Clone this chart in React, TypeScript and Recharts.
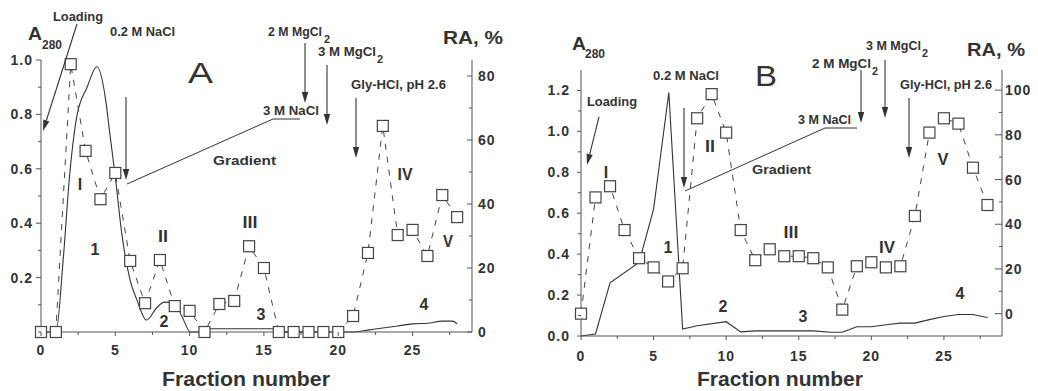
import React from 'react';
import { ComposedChart, Line, XAxis, YAxis } from 'recharts';

// fraction numbers for the RA (square) series
const fractions = [
  0, 1, 2, 3, 4, 5, 6, 7, 8, 9, 10, 11, 12, 13, 14, 15, 16, 17, 18, 19, 20, 21, 22, 23, 24, 25,
  26, 27, 28,
];

// RA, % in panel A and B
const raA = [
  0, 0, 83.7, 56.6, 41.5, 49.7, 22.2, 9, 22.5, 8.1, 6.6, 0, 8.75, 9.7, 26.8, 20, 0, 0, 0, 0, 0, 5,
  24.7, 64.4, 30.3, 31.9, 23.75, 42.8, 35.9,
];
const raB = [
  0, 52, 57, 37.4, 24.8, 20.7, 14.4, 20.3, 87.4, 98.2, 81, 37.4, 23.9, 28.8, 25.7, 25.7, 24.8, 20.7,
  1.8, 21.2, 23, 20.7, 21.2, 43.7, 81, 87.4, 85, 65.3, 48.6,
];

// A280 trace, panel A
const absAFraction = [
  0, 1, 1.5, 1.9, 2.4, 3.1, 3.76, 4.36, 4.63, 5, 5.44, 6, 6.44, 7.1, 7.8, 8.3, 9, 9.5, 10.05, 11,
  11.1, 15.6, 16, 21, 22, 23, 24, 25, 26, 27, 27.7, 28,
];
const absAValue = [
  0, 0, 0.27, 0.56, 0.79, 0.9, 0.975, 0.85, 0.73, 0.57, 0.36, 0.19, 0.12, 0.044, 0.09, 0.11, 0.105,
  0.055, 0, 0, 0.012, 0.012, 0, 0, 0.007, 0.015, 0.022, 0.03, 0.032, 0.04, 0.04, 0.03,
];

// A280 trace, panel B
const absBFraction = [
  0, 1, 2, 4, 5, 6.05, 7, 8, 10, 11, 12, 16, 17.2, 18, 19, 20, 21, 22, 23, 24, 25, 26, 27, 28,
];
const absBValue = [
  0, 0.01, 0.26, 0.36, 0.62, 1.19, 0.034, 0.05, 0.07, 0.02, 0.025, 0.025, 0.018, 0.018, 0.045,
  0.045, 0.055, 0.063, 0.063, 0.08, 0.095, 0.105, 0.105, 0.09,
];

// ticks
const xTicks = [0, 2.5, 5, 7.5, 10, 12.5, 15, 17.5, 20, 22.5, 25, 27.5];
const xLabels = [0, 5, 10, 15, 20, 25];
const aLeftTicks = [0, 0.1, 0.2, 0.3, 0.4, 0.5, 0.6, 0.7, 0.8, 0.9, 1.0];
const aLeftLabels = [0.2, 0.4, 0.6, 0.8, 1.0];
const aRightTicks = [0, 10, 20, 30, 40, 50, 60, 70, 80];
const aRightLabels = [0, 20, 40, 60, 80];
const bLeftTicks = [0, 0.1, 0.2, 0.3, 0.4, 0.5, 0.6, 0.7, 0.8, 0.9, 1.0, 1.1, 1.2];
const bLeftLabels = [0, 0.2, 0.4, 0.6, 0.8, 1.0, 1.2];
const bRightTicks = [0, 10, 20, 30, 40, 50, 60, 70, 80, 90, 100];
const bRightLabels = [0, 20, 40, 60, 80, 100];

const INK = '#333';
const AXIS = '#555';
const FONT = '"Liberation Sans", Arial, sans-serif';

const raDataA = fractions.map((f, i) => ({ f, ra: raA[i] }));
const raDataB = fractions.map((f, i) => ({ f, ra: raB[i] }));
const absDataA = absAFraction.map((f, i) => ({ f, a: absAValue[i] }));
const absDataB = absBFraction.map((f, i) => ({ f, a: absBValue[i] }));

const has = (list: number[], v: number) => list.some((l) => Math.abs(l - v) < 1e-6);

type Side = 'left' | 'right' | 'bottom';

const tickFor =
  (side: Side, labels: number[], fmt: (v: number) => string, gap: number, majorLen = 5) =>
  (p: any) => {
    const { x, y, payload } = p;
    const v = payload.value as number;
    const major = has(labels, v);
    const len = major ? majorLen : 3;
    const text = major ? fmt(v) : '';
    const style = { fontFamily: FONT, fontWeight: 700, fontSize: 14, fill: INK, letterSpacing: 1 };
    if (side === 'left')
      return (
        <g>
          <line x1={x - len} y1={y} x2={x} y2={y} stroke={AXIS} />
          <text x={x - gap} y={y + 5} textAnchor="end" style={style}>
            {text}
          </text>
        </g>
      );
    if (side === 'right')
      return (
        <g>
          <line x1={x - len} y1={y} x2={x} y2={y} stroke={AXIS} />
          <text x={x + gap} y={y + 5} textAnchor="start" style={style}>
            {text}
          </text>
        </g>
      );
    return (
      <g>
        <line x1={x} y1={y} x2={x} y2={y + len} stroke={AXIS} />
        <text x={x} y={y + gap} textAnchor="middle" style={style}>
          {text}
        </text>
      </g>
    );
  };

const fmt1 = (v: number) => v.toFixed(1);
const fmt0 = (v: number) => String(Math.round(v));

const square = (prefix: string) => (p: any) => (
  <rect
    key={`${prefix}-${p.index}`}
    x={p.cx - 5.5}
    y={p.cy - 5.5}
    width={11}
    height={11}
    fill="#fff"
    stroke="#444"
    strokeWidth={1.2}
  />
);

const Arrow = ({ x1, y1, x2, y2 }: { x1: number; y1: number; x2: number; y2: number }) => {
  const dx = x2 - x1;
  const dy = y2 - y1;
  const L = Math.hypot(dx, dy);
  const ux = dx / L;
  const uy = dy / L;
  const hl = 11;
  const hw = 3.2;
  const bx = x2 - ux * hl;
  const by = y2 - uy * hl;
  const pts = `${x2},${y2} ${bx - uy * hw},${by + ux * hw} ${bx + uy * hw},${by - ux * hw}`;
  return (
    <g>
      <line x1={x1} y1={y1} x2={bx} y2={by} stroke={INK} strokeWidth={1.1} />
      <polygon points={pts} fill={INK} />
    </g>
  );
};

const T = ({
  x,
  y,
  w,
  size = 12,
  weight = 700,
  anchor = 'start',
  children,
}: {
  x: number;
  y: number;
  w?: number;
  size?: number;
  weight?: number;
  anchor?: 'start' | 'middle' | 'end';
  children: React.ReactNode;
}) => (
  <text
    x={x}
    y={y}
    textAnchor={anchor}
    textLength={w}
    lengthAdjust={w ? 'spacingAndGlyphs' : undefined}
    style={{ fontFamily: FONT, fontSize: size, fontWeight: weight, fill: INK }}
  >
    {children}
  </text>
);

const Annotations = () => (
  <svg
    width={1038}
    height={391}
    style={{ position: 'absolute', left: 0, top: 0, pointerEvents: 'none' }}
  >
    {/* panel A */}
    <T x={28} y={40} w={14} size={18}>A</T>
    <T x={42} y={49} w={20} size={12}>280</T>
    <T x={53} y={21} w={50}>Loading</T>
    <Arrow x1={77} y1={24} x2={43} y2={131} />
    <T x={110} y={36} w={65}>0.2 M NaCl</T>
    <Arrow x1={126} y1={97} x2={126} y2={180} />
    <T x={188} y={83} w={25} size={30} weight={400}>A</T>
    <polyline points="127,184 273,119 300,119" fill="none" stroke={INK} strokeWidth={1} />
    <T x={263} y={115} w={56}>3 M NaCl</T>
    <T x={213} y={165} w={63}>Gradient</T>
    <T x={268} y={36} w={54}>2 M MgCl</T>
    <T x={324} y={43} w={6} size={10}>2</T>
    <Arrow x1={305} y1={43} x2={305} y2={103} />
    <T x={318} y={56} w={58}>3 M MgCl</T>
    <T x={377} y={63} w={6} size={10}>2</T>
    <Arrow x1={327} y1={65} x2={327} y2={125} />
    <T x={351} y={89} w={95}>Gly-HCl, pH 2.6</T>
    <Arrow x1={356} y1={98} x2={356} y2={158} />
    <T x={443} y={44} w={60} size={19}>RA, %</T>
    <T x={80} y={190} size={16} anchor="middle">I</T>
    <T x={163} y={242} w={10} size={16} anchor="middle">II</T>
    <T x={250} y={228} w={15} size={16} anchor="middle">III</T>
    <T x={405} y={180} w={15} size={16} anchor="middle">IV</T>
    <T x={448} y={247} w={10} size={16} anchor="middle">V</T>
    <T x={95} y={255} size={16} anchor="middle">1</T>
    <T x={164} y={327} size={16} anchor="middle">2</T>
    <T x={261} y={320} size={16} anchor="middle">3</T>
    <T x={424} y={310} size={16} anchor="middle">4</T>
    <T x={162} y={386} w={168} size={20}>Fraction number</T>

    {/* panel B */}
    <T x={572} y={50} w={14} size={18}>A</T>
    <T x={585} y={58} w={20} size={12}>280</T>
    <T x={653} y={80} w={66}>0.2 M NaCl</T>
    <T x={587} y={106} w={50}>Loading</T>
    <Arrow x1={599} y1={117} x2={587} y2={165} />
    <Arrow x1={684} y1={108} x2={684} y2={188} />
    <T x={755} y={86} w={22} size={30} weight={400}>B</T>
    <polyline points="685,191 825,128 857,128" fill="none" stroke={INK} strokeWidth={1} />
    <T x={798} y={124} w={53}>3 M NaCl</T>
    <T x={752} y={174} w={59}>Gradient</T>
    <T x={812} y={68} w={59}>2 M  MgCl</T>
    <T x={872} y={75} w={6} size={10}>2</T>
    <Arrow x1={861} y1={70} x2={861} y2={123} />
    <T x={866} y={50} w={55}>3 M MgCl</T>
    <T x={922} y={57} w={6} size={10}>2</T>
    <Arrow x1={885} y1={60} x2={885} y2={118} />
    <T x={900} y={89} w={92}>Gly-HCl, pH 2.6</T>
    <Arrow x1={909} y1={98} x2={909} y2={158} />
    <T x={967} y={56} w={58} size={19}>RA, %</T>
    <T x={606} y={178} size={16} anchor="middle">I</T>
    <T x={710} y={152} w={10} size={16} anchor="middle">II</T>
    <T x={791} y={238} w={15} size={16} anchor="middle">III</T>
    <T x={887} y={253} w={16} size={16} anchor="middle">IV</T>
    <T x={943} y={165} w={11} size={16} anchor="middle">V</T>
    <T x={668} y={253} size={16} anchor="middle">1</T>
    <T x={723} y={312} size={16} anchor="middle">2</T>
    <T x={803} y={322} size={16} anchor="middle">3</T>
    <T x={960} y={299} size={16} anchor="middle">4</T>
    <T x={697} y={386} w={166} size={20}>Fraction number</T>
  </svg>
);

export default function App() {
  return (
    <div
      style={{
        position: 'absolute',
        left: 0,
        top: 0,
        width: 1038,
        height: 391,
        background: '#fff',
        overflow: 'hidden',
      }}
    >
      <div style={{ position: 'absolute', left: 0, top: 0 }}>
        <ComposedChart width={520} height={391} margin={{ top: 60, right: 0, bottom: 0, left: 0 }}>
          <XAxis
            dataKey="f"
            type="number"
            domain={[0, 29]}
            ticks={xTicks}
            interval={0}
            height={59}
            tickSize={0}
            tickMargin={0}
            stroke={AXIS}
            tick={tickFor('bottom', xLabels, fmt0, 23, 4)}
          />
          <YAxis
            yAxisId="a"
            domain={[0, 1.0]}
            ticks={aLeftTicks}
            interval={0}
            width={41}
            tickSize={0}
            tickMargin={0}
            stroke={AXIS}
            tick={tickFor('left', aLeftLabels, fmt1, 8)}
          />
          <YAxis
            yAxisId="ra"
            orientation="right"
            domain={[0, 85]}
            ticks={aRightTicks}
            interval={0}
            width={48}
            tickSize={0}
            tickMargin={0}
            stroke={AXIS}
            tick={tickFor('right', aRightLabels, fmt0, 6, 5)}
          />
          <Line
            yAxisId="a"
            data={absDataA}
            dataKey="a"
            type="monotone"
            stroke={INK}
            strokeWidth={1.1}
            dot={false}
            activeDot={false}
            isAnimationActive={false}
          />
          <Line
            yAxisId="ra"
            data={raDataA}
            dataKey="ra"
            type="linear"
            stroke="#444"
            strokeWidth={1}
            strokeDasharray="6 7"
            dot={square('ra-a')}
            activeDot={false}
            isAnimationActive={false}
          />
        </ComposedChart>
      </div>
      <div style={{ position: 'absolute', left: 520, top: 0 }}>
        <ComposedChart width={518} height={391} margin={{ top: 70, right: 0, bottom: 0, left: 0 }}>
          <XAxis
            dataKey="f"
            type="number"
            domain={[0, 29]}
            ticks={xTicks}
            interval={0}
            height={55}
            tickSize={0}
            tickMargin={0}
            stroke={AXIS}
            tick={tickFor('bottom', xLabels, fmt0, 25, 4)}
          />
          <YAxis
            yAxisId="a"
            domain={[0, 1.3]}
            ticks={bLeftTicks}
            interval={0}
            width={61}
            tickSize={0}
            tickMargin={0}
            stroke={AXIS}
            tick={tickFor('left', bLeftLabels, fmt1, 11, 4)}
          />
          <YAxis
            yAxisId="ra"
            orientation="right"
            domain={[-10, 109]}
            ticks={bRightTicks}
            interval={0}
            width={36}
            tickSize={0}
            tickMargin={0}
            stroke={AXIS}
            tick={tickFor('right', bRightLabels, fmt0, 3, 7)}
          />
          <Line
            yAxisId="a"
            data={absDataB}
            dataKey="a"
            type="linear"
            stroke={INK}
            strokeWidth={1.1}
            dot={false}
            activeDot={false}
            isAnimationActive={false}
          />
          <Line
            yAxisId="ra"
            data={raDataB}
            dataKey="ra"
            type="linear"
            stroke="#444"
            strokeWidth={1}
            strokeDasharray="6 7"
            dot={square('ra-b')}
            activeDot={false}
            isAnimationActive={false}
          />
        </ComposedChart>
      </div>
      <Annotations />
    </div>
  );
}
